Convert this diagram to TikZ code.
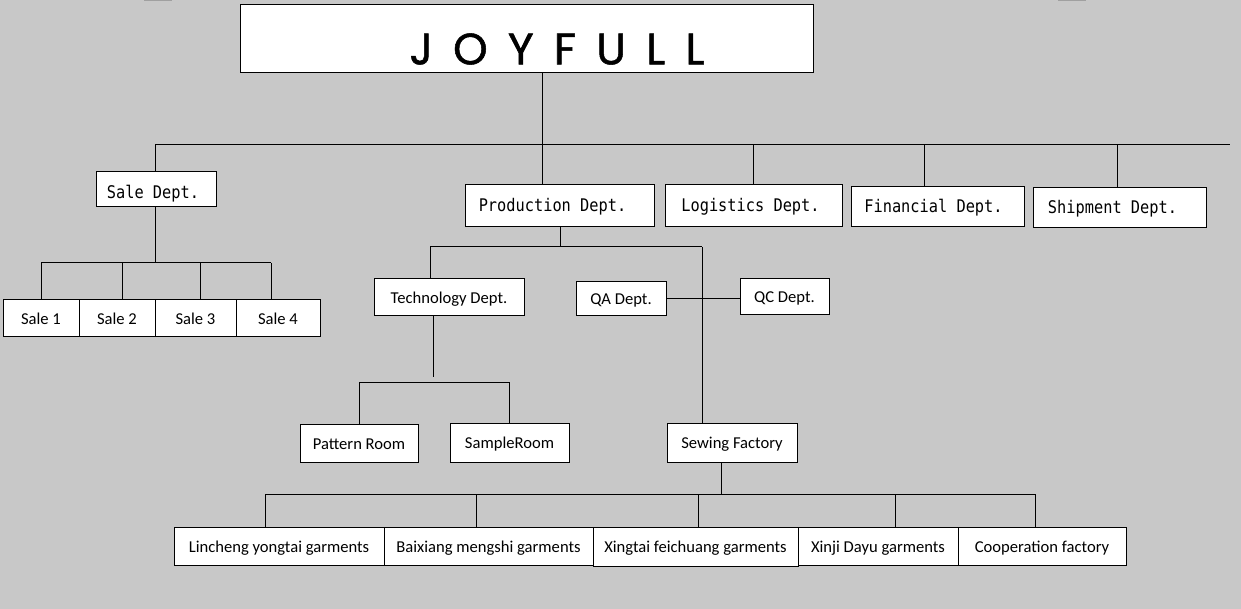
\documentclass[tikz,border=0pt]{standalone}
\usepackage{fontspec}
\usepackage{tikz}
\usetikzlibrary{calc,positioning}

\newfontfamily\deptfont[FakeStretch=0.88]{DejaVu Sans Mono}
\newfontfamily\unitfont{Carlito}
\newfontfamily\logofont[LetterSpace=46, FakeBold=1.2]{Poppins}
\definecolor{bggray}{RGB}{200,200,200}
\definecolor{markgray}{RGB}{160,160,160}

\tikzset{
  orgbox/.style={draw=black, fill=white, line width=1pt, inner sep=0pt},
  dept/.style={orgbox, text height=11pt, text depth=0pt, font=\deptfont\fontsize{17.4}{20}\selectfont},
  unit/.style={orgbox, text height=12pt, text depth=0pt, font=\unitfont\fontsize{16.6}{20}\selectfont},
  link/.style={draw=black, line width=1pt},
}

\begin{document}
\begin{tikzpicture}[x=1pt, y=-1pt]
  % Fondo
  \fill[bggray] (0,0) rectangle (1241,609);
  \useasboundingbox (0,0) rectangle (1241,609);
  \fill[markgray] (144,0) rectangle (172,1.5);
  \fill[markgray] (1058,0) rectangle (1086,1.5);

  % Titulo
  \node[orgbox, minimum width=573pt, minimum height=68pt] (title) at (526.5,39) {};
  \node[font=\logofont\fontsize{44}{48}\selectfont, inner sep=0pt] (logo) at (557,49) {JOYFULL};

  % Departamentos
  \node[dept, text height=17.6pt, minimum width=120pt, minimum height=35pt] (sale) at (156,189.5) {Sale Dept.\hspace*{6pt}};
  \node[dept, minimum width=189pt, minimum height=42pt] (prod) at (559.5,206) {Production Dept.\hspace*{14pt}};
  \node[dept, minimum width=177pt, minimum height=42pt] (logi) at (753.5,206) {Logistics Dept.\hspace*{6pt}};
  \node[dept, minimum width=173pt, minimum height=40pt] (fin) at (937.5,207) {Financial Dept.\hspace*{8pt}};
  \node[dept, minimum width=173pt, minimum height=40pt] (ship) at (1119.5,208) {Shipment Dept.\hspace*{14pt}};

  % Ventas
  \node[unit, minimum width=76pt, minimum height=36pt] (s1) at (41,318) {Sale 1};
  \node[unit, minimum width=76pt, minimum height=36pt] (s2) at (117,318) {Sale 2};
  \node[unit, minimum width=81pt, minimum height=36pt] (s3) at (195.5,318) {Sale 3};
  \node[unit, minimum width=84pt, minimum height=36pt] (s4) at (278,318) {Sale 4};

  % Produccion
  \node[unit, minimum width=150pt, minimum height=37pt] (tech) at (449,297.5) {Technology Dept.};
  \node[unit, minimum width=90pt, minimum height=34pt] (qa) at (621,299) {QA Dept.};
  \node[unit, minimum width=89pt, minimum height=36pt] (qc) at (784.5,297) {QC Dept.};
  \node[unit, minimum width=118pt, minimum height=38pt] (pattern) at (359,443) {Pattern Room};
  \node[unit, minimum width=119pt, minimum height=39pt] (sample) at (509.5,442.5) {SampleRoom};
  \node[unit, minimum width=130pt, minimum height=39pt] (sewing) at (732,442.5) {Sewing Factory};

  % Fabricas
  \node[unit, minimum width=210pt, minimum height=38pt] (f1) at (279,546) {Lincheng yongtai garments};
  \node[unit, minimum width=209pt, minimum height=38pt] (f2) at (488.5,546) {Baixiang mengshi garments};
  \node[unit, minimum width=205pt, minimum height=39pt] (f3) at (695.5,546.5) {Xingtai feichuang garments};
  \node[unit, minimum width=160pt, minimum height=38pt] (f4) at (878,546) {Xinji Dayu garments};
  \node[unit, minimum width=168pt, minimum height=38pt] (f5) at (1042,546) {Cooperation factory};

  % Lineas principales
  \coordinate (bus) at (542,145);
  \coordinate (busL) at (155,145);
  \coordinate (busR) at (1230,145);
  \draw[link] (title.south -| bus) -- (bus);
  \draw[link] (busL) -- (busR);
  \draw[link] (busL) -- (busL |- sale.north);
  \draw[link] (bus) -- (bus |- prod.north);
  \draw[link] (logi.north) -- (logi.north |- busR);
  \draw[link] ([xshift=-13.5pt]fin.north) -- ([xshift=-13.5pt]fin.north |- busR);
  \draw[link] ([xshift=-2.5pt]ship.north) -- ([xshift=-2.5pt]ship.north |- busR);

  % Ventas
  \coordinate (saleBus) at (155,263);
  \draw[link] (sale.south -| saleBus) -- (saleBus);
  \draw[link] (41,263) -- (271,263);
  \foreach \x/\n in {41/s1, 122/s2, 200/s3, 271/s4}
    \draw[link] (\x,263) -- (\x,263 |- \n.north);

  % Produccion
  \coordinate (prodBus) at (560,247);
  \coordinate (qBus) at (702,247);
  \draw[link] (prod.south -| prodBus) -- (prodBus);
  \draw[link] (430,247) -- (qBus);
  \draw[link] (430,247) -- (430,247 |- tech.north);
  \draw[link] (qBus) -- (qBus |- sewing.north);
  \draw[link] (qa.east) -- (qa.east -| qc.west);

  % Tecnologia
  \draw[link] (tech.south -| 433,0) -- (433,377);
  \draw[link] (359,382) -- (509,382);
  \draw[link] (359,382) -- (pattern.north);
  \draw[link] (509,382) -- (509,382 |- sample.north);

  % Fabricas
  \coordinate (sewBus) at (721,494);
  \draw[link] (sewing.south -| sewBus) -- (sewBus);
  \draw[link] (265,494) -- (1035,494);
  \foreach \x/\n in {265/f1, 476/f2, 698/f3, 895/f4, 1035/f5}
    \draw[link] (\x,494) -- (\x,494 |- \n.north);
\end{tikzpicture}
\end{document}
